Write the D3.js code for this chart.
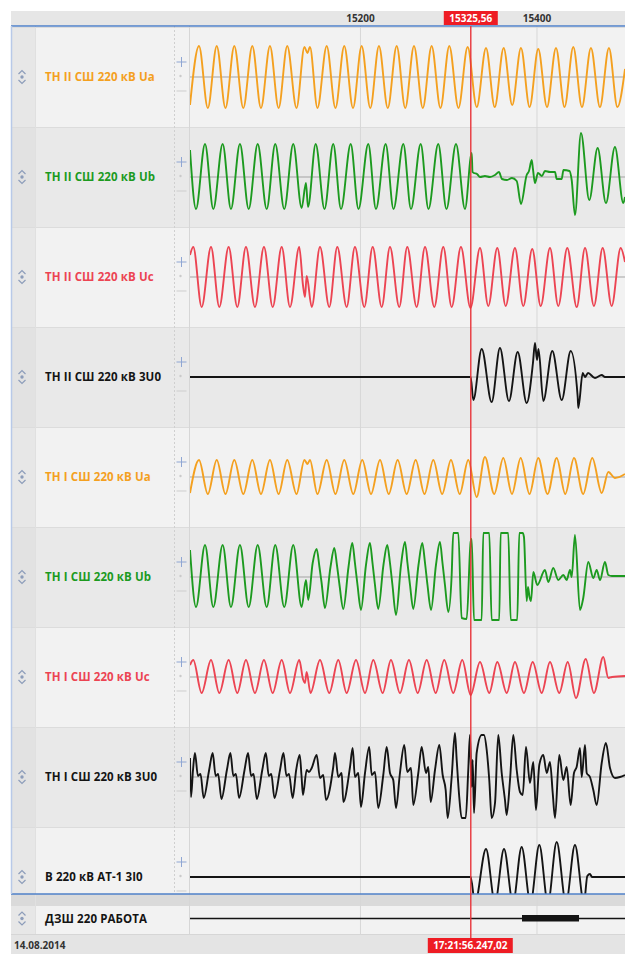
<!DOCTYPE html>
<html>
<head>
<meta charset="utf-8">
<script src="https://cdn.jsdelivr.net/npm/d3@7"></script>
<style>
  html, body { margin: 0; padding: 0; background: #ffffff; }
  svg { display: block; }
</style>
</head>
<body>
<svg id="chart" width="625" height="957"></svg>
<script>
// ---- Recording window and markers (ms) ----
const timeWindow = [15007.4, 15500.3];
const timeTicks = [15200, 15400];
const cursorTime = 15325.56;
const cursorLabel = "15325,56";
const cursorClock = "17:21:56.247,02";
const recordDate = "14.08.2014";

// ---- Channel names ----
const channelNames = [
  "ТН II СШ 220 кВ Ua",
  "ТН II СШ 220 кВ Ub",
  "ТН II СШ 220 кВ Uc",
  "ТН II СШ 220 кВ 3U0",
  "ТН I СШ 220 кВ Ua",
  "ТН I СШ 220 кВ Ub",
  "ТН I СШ 220 кВ Uc",
  "ТН I СШ 220 кВ 3U0",
  "В 220 кВ АТ-1 3I0"
];
const digitalName = "ДЗШ 220 РАБОТА";

// ---- Analog samples: [time ms, value in % of channel scale] ----
const uaII = [
  [15007.4,-28],[15017.6,31],[15027.6,-31],[15037.7,31],[15047.6,-31],[15057.6,31],[15067.8,-31],[15078,31],
  [15087.8,-31],[15098,31],[15107.8,-31],[15117.6,31],[15128.1,-31],[15137.1,30],[15140.5,24],[15143.3,30],
  [15151.8,-31],[15162.3,31],[15172.2,-31],[15182.2,31],[15192.1,-31],[15201.9,31],[15211.7,-31],[15221.5,31],
  [15231.5,-31],[15241.6,31],[15251.3,-31],[15261.2,31],[15271.2,-31],[15281.2,31],[15291.2,-31],[15301.2,31],
  [15311.6,-31],[15322,30],[15332.3,-30],[15342.8,29],[15352.7,-30],[15362.8,29],[15372.5,-28],[15382.4,29],
  [15392.2,-30],[15402,28],[15411.9,-30],[15422.1,29],[15431.8,-30],[15441.7,30],[15451.5,-30],[15461.7,29],
  [15471.9,-30],[15482.1,29],[15491.7,-30],[15500.3,8]
];

const ubII = [
  [15007.4,27],[15014.2,-32],[15024.4,33],[15033.8,-32],[15044.4,33],[15053.8,-32],[15064.0,33],[15073.9,-32],
  [15084.1,33],[15094.3,-32],[15104.0,33],[15114.2,-32],[15124.4,33],[15133.9,-31],[15138.8,-6],[15141.1,-30],
  [15149.8,33],[15159.8,-32],[15169.7,33],[15178.5,-32],[15189.5,33],[15198.3,-32],[15209.4,33],[15218.1,-32],
  [15229.1,33],[15238.0,-32],[15249.1,33],[15257.8,-32],[15268.8,33],[15277.6,-32],[15288.7,33],[15298.0,-32],
  [15308.8,33],[15319.0,-32],
  [15326.6,24],[15327.5,5],[15329.2,4],[15332.6,3],[15336.0,0],[15341.6,1],[15347.3,0],[15353.0,2],
  [15357.5,5],[15360.9,-2],[15366.6,-3],[15372.2,-1],[15377.6,-4],[15382.4,-27],[15388.9,2],[15391.5,6],
  [15394.6,17],[15396.0,8],[15398.3,-6],[15401.7,4],[15406.2,1],[15409.6,6],[15415.3,5],[15421.0,5],
  [15422.9,-2],[15428.5,-2],[15430.6,7],[15437.4,6],[15439.9,-3],[15443.6,-38],[15450.4,44],[15459.8,-23],
  [15469.3,29],[15478.7,-26],[15488.9,30],[15498.4,-26],[15500.3,-20]
];

const ucII = [
  [15007.4,22],[15011.1,30],[15020.6,-30],[15031.2,30],[15040.6,-30],[15051.2,30],[15061.0,-30],[15070.8,30],
  [15081.0,-30],[15091.2,30],[15101.1,-30],[15111.3,30],[15120.7,-30],[15131.2,30],[15135.4,-8],[15137.7,-20],
  [15139.6,1],[15145.3,-30],[15154.7,30],[15165.2,-30],[15174.3,30],[15184.9,-30],[15194.3,30],[15204.9,-30],
  [15214.4,30],[15224.6,-30],[15234.0,30],[15244.5,-30],[15253.6,30],[15264.2,-30],[15273.7,30],[15284.2,-30],
  [15294.4,30],[15303.9,-30],[15314.4,30],[15325.2,-31],[15336.0,29],[15345.4,-29],[15355.6,29],[15365.1,-29],
  [15375.6,29],[15385.0,-29],[15395.2,28],[15404.8,-29],[15415.3,29],[15424.7,-29],[15434.9,29],[15445.6,-30],
  [15455.0,29],[15465.1,-29],[15475.0,29],[15485.2,-29],[15495.4,29],[15500.3,15]
];

const u0II = [
  [15007.4,0],[15325.4,0],[15328.4,-23],[15337.9,28],[15349.2,-25],[15358.6,29],[15368.8,-24],[15378.7,25],
  [15388.9,-26],[15396.0,14],[15398.3,34],[15400.6,17],[15402.3,28],[15407.7,-24],[15417.9,26],[15428.6,-23],
  [15438.8,26],[15446.7,-20],[15447.4,-31],[15452.4,4],[15455.0,0],[15458.4,4],[15466.3,-1],[15473.9,2],
  [15477.6,0],[15500.3,0]
];

const uaI = [
  [15007.4,-16],[15017.6,17],[15027.6,-17],[15037.7,17],[15047.6,-17],[15057.6,17],[15067.8,-17],[15078,17],
  [15087.8,-17],[15098,17],[15107.8,-17],[15117.6,17],[15128.1,-17],[15137.1,17],[15140.5,13],[15143.3,17],
  [15151.8,-17],[15162.3,17],[15172.2,-17],[15182.2,17],[15192.4,-17],[15202.6,17],[15212.5,-17],[15222.7,17],
  [15232.6,-17],[15242.7,17],[15252.9,-17],[15263.1,17],[15273.1,-17],[15283.1,17],[15293.1,-17],[15303.1,17],
  [15313.0,-17],[15322.7,17],[15332.2,-20],[15341.6,20],[15352.1,-17],[15362.4,19],[15372.2,-17],[15382.1,19],
  [15392.1,-17],[15402.0,19],[15412.5,-17],[15422.9,19],[15432.6,-17],[15442.5,19],[15452.9,-17],[15463.2,19],
  [15473.9,-16],[15481.4,5],[15489.0,-1],[15500.3,3]
];

const ubI = [
  [15007.4,27],[15014.2,-30],[15024.4,32],[15033.8,-30],[15044.4,32],[15053.8,-30],[15064.0,32],[15073.9,-30],
  [15084.1,32],[15094.3,-30],[15104.0,32],[15114.2,-30],[15124.4,32],[15133.9,-30],[15138.8,-3],[15141.4,-23],
  [15146.4,14],[15150.9,28],[15154.1,10],[15156.4,-5],[15160.3,-31],
  [15166.6,10],[15170.9,29],[15173.9,12],[15176.8,-8],[15181.1,-32],
  [15187.0,10],[15191.3,34],[15194.3,14],[15197.2,-8],[15201.1,-33],
  [15206.8,12],[15211.3,34],[15214.2,14],[15217.0,-8],[15220.7,-32],
  [15226.6,12],[15230.9,32],[15234.0,14],[15236.8,-8],[15240.8,-38],
  [15246.5,12],[15251.0,35],[15253.8,14],[15256.7,-8],[15260.4,-32],
  [15266.3,12],[15270.6,34],[15273.7,14],[15276.5,-8],[15280.5,-33],
  [15286.1,12],[15290.6,35],[15293.5,14],[15296.3,-8],[15300.1,-35],
  [15303.9,2],[15305.7,44],[15311.4,44],[15315.2,-41],[15320.9,-42],[15325.4,35],[15326.6,38],[15329.2,-43],
  [15337.9,-43],[15339.7,44],[15346.5,44],[15349.2,-43],[15357.8,-43],[15359.4,44],[15368.0,44],[15370.8,-43],
  [15378.2,-43],[15380.5,44],[15384.4,44],[15385.8,40],[15388.9,-24],[15390.4,-10],[15392.1,-20],[15393.8,-24],
  [15396.4,5],[15400.9,-8],[15409.6,7],[15413.4,-5],[15419.0,9],[15424.7,-3],[15430.4,2],[15434.2,-3],
  [15438.0,7],[15439.9,0],[15443.6,42],[15449.3,-33],[15453.0,-21],[15458.7,15],[15464.4,-1],[15468.2,7],
  [15472.0,-3],[15477.6,15],[15481.4,2],[15485.5,1],[15500.3,1]
];

const ucI = [
  [15007.4,12],[15011.1,17],[15020.6,-16],[15031.2,17],[15040.6,-16],[15051.2,17],[15061.0,-16],[15070.8,17],
  [15081.0,-16],[15091.2,17],[15101.1,-16],[15111.3,17],[15120.7,-16],[15131.2,17],[15135.4,-2],[15137.7,-6],
  [15139.6,5],[15143.9,-16],[15154.7,17],[15165.2,-16],[15175.4,17],[15184.9,-16],[15195.5,17],[15205.7,-16],
  [15215.1,17],[15225.7,-16],[15235.1,17],[15245.3,-16],[15255.5,17],[15265.4,-16],[15275.6,17],[15285.8,-16],
  [15295.5,17],[15305.7,-16],[15315.9,17],[15325.4,-18],[15336.0,15],[15346.5,-16],[15355.6,15],[15366.3,-16],
  [15375.6,15],[15385.8,-16],[15395.7,15],[15405.9,-16],[15415.3,15],[15425.8,-16],[15435.4,15],[15444.8,-21],
  [15455.8,18],[15465.1,-16],[15475.7,20],[15481.4,-1],[15485.5,0],[15500.3,1]
];

const u0I = [
  [15007.4,19],[15008.5,-20],[15010.8,7],[15013.0,24],[15016.4,1],[15019.3,3],[15022.9,-21],
  [15029.1,7],[15033.1,24],[15036.5,1],[15039.3,3],[15043.0,-22],
  [15049.2,7],[15053.2,24],[15056.5,1],[15059.4,3],[15063.0,-21],
  [15069.2,7],[15073.2,24],[15076.6,1],[15079.4,3],[15083.1,-22],
  [15089.3,7],[15093.3,24],[15096.7,1],[15099.5,3],[15103.1,-21],
  [15109.4,7],[15113.3,24],[15116.7,1],[15119.6,3],[15123.7,-21],
  [15127.7,7],[15131.7,22],[15133.7,2],[15135.4,-18],[15139.6,7],[15142.2,5],[15145.3,9],[15150.9,22],
  [15154.7,-1],[15158.4,2],[15161.5,-23],
  [15169.7,10],[15171.7,24],[15175.4,0],[15179.3,4],[15181.1,-25],
  [15188.7,10],[15191.7,29],[15194.3,0],[15198.1,4],[15201.1,-30],
  [15205.7,4],[15210.5,30],[15213.3,2],[15217.0,5],[15220.7,-31],
  [15226.4,2],[15230.3,30],[15234.0,4],[15237.7,-3],[15240.8,-31],
  [15245.3,4],[15250.2,32],[15253.6,5],[15257.8,9],[15260.4,-28],
  [15266.1,4],[15269.9,30],[15274.8,4],[15277.4,10],[15280.1,-25],
  [15285.0,7],[15289.9,32],[15293.7,2],[15297.1,-13],[15299.4,-41],
  [15303.9,0],[15307.6,44],[15309.6,17],[15312.5,-20],[15315.2,-41],[15319.8,-41],
  [15322.7,7],[15324.6,42],[15326.6,-10],[15327.7,17],[15329.2,-36],[15332.2,24],[15337.9,42],[15340.5,42],
  [15343.6,27],[15346.5,-3],[15349.2,-41],[15353.0,-26],[15356.7,42],[15360.6,4],[15364.3,-23],[15366.2,-38],
  [15370.0,-3],[15373.7,42],[15377.6,7],[15381.3,-15],[15384.4,-18],[15388.1,30],[15392.6,-6],[15396.4,15],
  [15399.4,-33],[15403.2,12],[15407.7,22],[15411.6,4],[15415.3,15],[15418.4,-16],[15421.0,-41],[15425.8,22],
  [15430.4,-3],[15434.2,10],[15438.7,-28],[15442.5,4],[15445.5,10],[15449.3,29],[15451.2,0],[15455.0,32],
  [15456.9,4],[15460.6,0],[15464.4,-13],[15468.2,-28],[15473.9,14],[15478.7,34],[15483.3,9],[15488.9,-1],
  [15494.6,0],[15500.3,2]
];

const i0AT1 = [
  [15007.4,0],[15325.4,0],[15330.3,-26],[15342.8,28],[15353.0,-26],[15363.2,28],[15373.4,-26],[15383.2,30],
  [15393.2,-26],[15403.2,32],[15413.0,-26],[15422.9,35],[15433.4,-26],[15443.6,32],[15453.8,-26],[15457.6,1],
  [15460.6,3],[15462.9,0],[15500.3,0]
];

// ---- Discrete signal: [time ms, state] ----
const dzshState = [[15007.4,0],[15383.6,1],[15448.2,0],[15500.3,0]];

// ---- Styling ----
const COLORS = { orange: "#f4a01f", green: "#1c9a1f", red: "#ec4452", black: "#141414" };
const channelSeries = [uaII, ubII, ucII, u0II, uaI, ubI, ucI, u0I, i0AT1];
const channelColor = [COLORS.orange, COLORS.green, COLORS.red, COLORS.black,
                      COLORS.orange, COLORS.green, COLORS.red, COLORS.black, COLORS.black];

const FONT = "'Open Sans', 'Noto Sans', 'DejaVu Sans', sans-serif";
const W = 625;
const frameL = 11, iconR = 35, labelR = 174, plotL = 190, plotR = 625;
const headTop = 11, headBot = 26;
const rowTop0 = 27, rowH = 100;
const analogBottom = 894;
const digTop = 906, digBot = 934, footTop = 935, footBot = 954;

const svg = d3.select("#chart");
const defs = svg.append("defs");

const x = d3.scaleLinear().domain(timeWindow).range([plotL, plotR]);

// ---- Header band ----
svg.append("rect").attr("x", frameL).attr("y", headTop).attr("width", W - frameL).attr("height", headBot - headTop)
  .attr("fill", "#e6e6e6");

// ---- Channel rows ----
const rows = channelNames.map((name, i) => {
  const top = rowTop0 + i * rowH;
  const bottom = Math.min(top + rowH, analogBottom);
  return { name, top, bottom, zero: top + rowH / 2, data: channelSeries[i], color: channelColor[i], i };
});

const rowG = svg.append("g");
rows.forEach(r => {
  const light = r.i % 2 === 0;
  rowG.append("rect").attr("x", frameL).attr("y", r.top).attr("width", W - frameL).attr("height", r.bottom - r.top)
    .attr("fill", light ? "#f2f2f2" : "#e9e9e9");
  rowG.append("rect").attr("x", frameL).attr("y", r.top).attr("width", iconR - frameL).attr("height", r.bottom - r.top)
    .attr("fill", light ? "#e7e7e7" : "#e2e2e2");
  rowG.append("line").attr("x1", frameL).attr("x2", W).attr("y1", r.top + 0.5).attr("y2", r.top + 0.5)
    .attr("stroke", "#dcdcdc");
});

// Grey gap, discrete row and footer
svg.append("rect").attr("x", frameL).attr("y", analogBottom).attr("width", W - frameL).attr("height", digTop - analogBottom)
  .attr("fill", "#dadada");
svg.append("rect").attr("x", frameL).attr("y", digTop).attr("width", W - frameL).attr("height", digBot - digTop)
  .attr("fill", "#f2f2f2");
svg.append("rect").attr("x", frameL).attr("y", digTop).attr("width", iconR - frameL).attr("height", digBot - digTop)
  .attr("fill", "#e7e7e7");
svg.append("rect").attr("x", frameL).attr("y", footTop).attr("width", W - frameL).attr("height", footBot - footTop)
  .attr("fill", "#e4e4e4");
svg.append("line").attr("x1", frameL).attr("x2", W).attr("y1", digBot + 0.5).attr("y2", digBot + 0.5).attr("stroke", "#d6d6d6");

// Column separators
svg.append("line").attr("x1", labelR + 0.5).attr("x2", labelR + 0.5).attr("y1", headBot).attr("y2", analogBottom)
  .attr("stroke", "#cfcfcf").attr("stroke-dasharray", "2,2");
svg.append("line").attr("x1", plotL - 0.5).attr("x2", plotL - 0.5).attr("y1", headBot).attr("y2", digBot)
  .attr("stroke", "#d6d6d6");
svg.append("line").attr("x1", iconR + 0.5).attr("x2", iconR + 0.5).attr("y1", headBot).attr("y2", digBot)
  .attr("stroke", "#e0e0e0");

// Vertical grid at time ticks
const grid = svg.append("g").attr("transform", `translate(0,${headBot})`)
  .call(d3.axisBottom(x).tickValues(timeTicks).tickSize(footTop - headBot).tickFormat(""));
grid.select(".domain").remove();
grid.selectAll("line").attr("stroke", "#d7d7d7");

// Header tick labels
const axisTop = svg.append("g").attr("transform", "translate(0,21.5)")
  .call(d3.axisTop(x).tickValues(timeTicks).tickSize(0).tickPadding(0).tickFormat(d3.format("d")));
axisTop.select(".domain").remove();
axisTop.selectAll("text").attr("font-family", FONT).attr("font-size", 10).attr("font-weight", 700)
  .attr("fill", "#333");

// Scale marks (+ · −), icons and labels
function drawIcon(g, cx, cy) {
  g.append("path")
    .attr("d", `M${cx - 3.5},${cy - 3} L${cx},${cy - 6.5} L${cx + 3.5},${cy - 3} M${cx - 3.5},${cy + 3} L${cx},${cy + 6.5} L${cx + 3.5},${cy + 3}`)
    .attr("fill", "none").attr("stroke", "#8d9dba").attr("stroke-width", 1.2);
  g.append("circle").attr("cx", cx).attr("cy", cy).attr("r", 1.7).attr("fill", "#8d9dba");
}

const LABEL_SIZE = 11.5;
const annot = svg.append("g");
rows.forEach(r => {
  drawIcon(annot, 22, r.zero);
  annot.append("text").attr("x", 45).attr("y", r.zero).attr("dy", "0.36em")
    .attr("font-family", FONT).attr("font-size", LABEL_SIZE).attr("font-weight", 700)
    .attr("letter-spacing", "0.1px")
    .attr("fill", r.color).text(r.name);
  const px = 181.5, py = r.zero - 15;
  annot.append("path").attr("d", `M${px - 5},${py} H${px + 5} M${px},${py - 5} V${py + 5}`)
    .attr("stroke", "#8fa6d3").attr("stroke-width", 1);
  annot.append("circle").attr("cx", px - 1).attr("cy", r.zero - 1).attr("r", 1.2).attr("fill", "#cacaca");
  annot.append("path").attr("d", `M${px - 5},${r.zero + 14} H${px + 5}`)
    .attr("stroke", "#cdcdcd").attr("stroke-width", 1);
});

// Discrete row label
const digY = 918.5;
drawIcon(annot, 22, digY);
annot.append("text").attr("x", 45).attr("y", digY).attr("dy", "0.36em")
  .attr("font-family", FONT).attr("font-size", LABEL_SIZE).attr("font-weight", 700).attr("letter-spacing", "0.1px")
  .attr("fill", COLORS.black).text(digitalName);

// ---- Waveforms ----
const plotG = svg.append("g");
rows.forEach(r => {
  const clipId = "clip" + r.i;
  defs.append("clipPath").attr("id", clipId).append("rect")
    .attr("x", plotL).attr("y", r.top + 1).attr("width", plotR - plotL).attr("height", r.bottom - r.top - 1);
  const y = d3.scaleLinear().domain([-50, 50]).range([r.top + rowH, r.top]);
  const g = plotG.append("g").attr("clip-path", `url(#${clipId})`);
  g.append("line").attr("x1", plotL).attr("x2", plotR).attr("y1", y(0)).attr("y2", y(0))
    .attr("stroke", "#a3a3a3").attr("stroke-width", 1);
  const line = d3.line().x(d => x(d[0])).y(d => y(d[1])).curve(d3.curveMonotoneX);
  g.append("path").datum(r.data).attr("d", line)
    .attr("fill", "none").attr("stroke", r.color).attr("stroke-width", 1.9)
    .attr("stroke-linejoin", "round");
});

// Discrete signal: thin line when off, thick bar when on
const dg = svg.append("g");
dg.append("line").attr("x1", plotL).attr("x2", plotR).attr("y1", digY).attr("y2", digY)
  .attr("stroke", COLORS.black).attr("stroke-width", 1.3);
const onSpans = [];
dzshState.forEach((d, k) => {
  if (d[1] === 1 && k + 1 < dzshState.length) onSpans.push([d[0], dzshState[k + 1][0]]);
});
dg.selectAll("rect.on").data(onSpans).join("rect").attr("class", "on")
  .attr("x", d => x(d[0])).attr("width", d => x(d[1]) - x(d[0]))
  .attr("y", digY - 3.5).attr("height", 6.5).attr("fill", COLORS.black);

// ---- Frame lines ----
svg.append("line").attr("x1", frameL).attr("x2", W).attr("y1", headBot).attr("y2", headBot)
  .attr("stroke", "#4f80c8").attr("stroke-width", 1.6);
svg.append("line").attr("x1", frameL).attr("x2", W).attr("y1", analogBottom).attr("y2", analogBottom)
  .attr("stroke", "#4f80c8").attr("stroke-width", 1.6);
svg.append("line").attr("x1", frameL + 0.5).attr("x2", frameL + 0.5).attr("y1", headBot).attr("y2", analogBottom)
  .attr("stroke", "#b8c9e8").attr("stroke-width", 1.5);

// ---- Cursor ----
const cx = x(cursorTime);
svg.append("line").attr("x1", cx).attr("x2", cx).attr("y1", headBot).attr("y2", 938)
  .attr("stroke", "#e8353b").attr("stroke-width", 1.4);
svg.append("rect").attr("x", cx - 27).attr("y", headTop).attr("width", 54).attr("height", headBot - headTop - 1)
  .attr("fill", "#ee1c24");
svg.append("text").attr("x", cx).attr("y", 21.5).attr("text-anchor", "middle")
  .attr("font-family", FONT).attr("font-size", 10).attr("font-weight", 700).attr("fill", "#fff").text(cursorLabel);
svg.append("rect").attr("x", cx - 43).attr("y", 938).attr("width", 85).attr("height", 15).attr("fill", "#ee1c24");
svg.append("text").attr("x", cx - 0.5).attr("y", 949).attr("text-anchor", "middle")
  .attr("font-family", FONT).attr("font-size", 10).attr("font-weight", 700).attr("fill", "#fff").text(cursorClock);

// ---- Footer date ----
svg.append("text").attr("x", 14).attr("y", 949)
  .attr("font-family", FONT).attr("font-size", 10).attr("font-weight", 700).attr("fill", "#333").text(recordDate);
</script>
</body>
</html>
